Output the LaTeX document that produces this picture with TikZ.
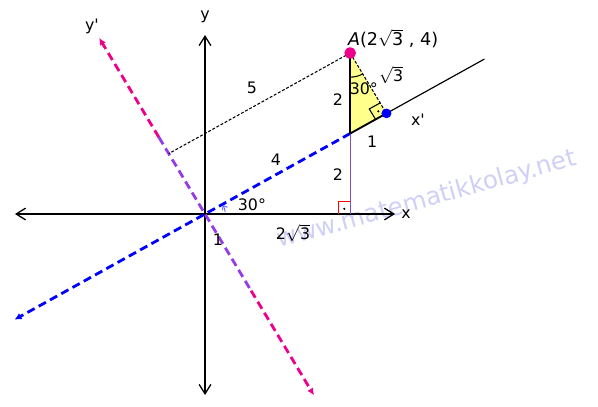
\documentclass[tikz,border=0pt]{standalone}
\usepackage{fontspec}
\setmainfont{DejaVu Sans}
\usetikzlibrary{arrows.meta,calc}
\definecolor{wmark}{RGB}{150,150,235}
\definecolor{tri}{RGB}{255,255,140}
\definecolor{ypurple}{RGB}{150,60,230}
\tikzset{
  ax/.style={line width=1.1pt,black},
  axtip/.style={{Straight Barb[length=8pt,width=10pt,line width=1.1pt]}-{Straight Barb[length=8pt,width=10pt,line width=1.1pt]}},
  xpr/.style={blue,line width=2.4pt,dash pattern=on 7pt off 4pt},
  ypr/.style={magenta,line width=2.4pt,dash pattern=on 7pt off 4pt},
  ftip/.style={-{Latex[length=6pt,width=6pt]}},
  lbl/.style={inner sep=1pt,font=\fontsize{13.5}{15}\selectfont},
  dotd/.style={black,line width=0.9pt,dash pattern=on 2.5pt off 1.5pt},
}

\begin{document}
\begin{tikzpicture}[x=1.257cm,y=1.2075cm]
  \useasboundingbox (-4.893,-4.770) rectangle (9.379,5.317);
  % points
  \coordinate (O) at (0,0);
  \coordinate (A) at ({2*sqrt(3)},4);
  \coordinate (B) at ({2*sqrt(3)},2);
  \coordinate (C) at ({2*sqrt(3)},0);
  \coordinate (P) at (30:5);
  \coordinate (Q) at (120:{sqrt(3)});
  \coordinate (xl) at (-4.535,0);
  \coordinate (xr) at (4.535,0);
  \coordinate (yd) at (0,-4.497);
  \coordinate (yu) at (0,4.447);
  \coordinate (xpl) at (210:5.25);
  \coordinate (xpr) at (30:7.7);
  \coordinate (ypu) at (120:5.05);
  \coordinate (ypd) at (300:5.2);
  \coordinate (ypm1) at (120:2.2);
  \coordinate (ypm2) at (300:2.2);

  % watermark
  \node[rotate=15.5,text=wmark,opacity=0.45,font=\fontsize{21}{24}\selectfont] (wm) at (5.30,0.35) {www.matematikkolay.net};

  % triangle
  \fill[tri] (A) -- (B) -- (P) -- cycle;

  % axes
  \draw[ax,axtip] (xl) -- (xr);
  \draw[ax,axtip] (yd) -- (yu);

  % rotated axes
  \draw[ypr,ftip] (ypm1) -- (ypu);
  \draw[ypr,ftip] (ypm2) -- (ypd);
  \draw[ypr,ypurple] (ypm1) -- (ypm2);
  \draw[xpr,ftip] (B) -- (xpl);
  \draw[black,line width=1.6pt] (B) -- (P);
  \draw[black,line width=1pt] (P) -- (xpr);

  % helper lines
  \draw[dotd] (A) -- (Q);
  \draw[dotd] (A) -- (P);
  \draw[black,line width=1.2pt] (A) -- (B);
  \draw[blue!50!violet!70,line width=0.8pt] (B) -- (C);

  % angle marks
  \draw[line width=0.9pt] ($(A)+(270:0.6)$) arc[start angle=270,end angle=300,radius=0.6];
  \draw[line width=0.9pt] ($(P)+(120:0.3)$) -- ($(P)+(120:0.3)+(210:0.3)$) -- ($(P)+(210:0.3)$);
  \fill ($(P)+(165:0.2)$) circle (1pt);
  \draw[red,line width=0.9pt] ($(C)+(-0.28,0)$) -- ($(C)+(-0.28,0.3)$) -- ($(C)+(0,0.3)$);
  \fill ($(C)+(-0.14,0.13)$) circle (1pt);
  \draw[blue!60,line width=0.8pt,-{Straight Barb[length=3pt,width=5pt]}] (0.48,0.05) arc[start angle=6,end angle=28,radius=0.48];

  % dots
  \fill[magenta] (A) circle (0.14);
  \fill[blue] (P) circle (0.12);

  % labels
  \node[lbl] (lx) at (4.80,0) {x};
  \node[lbl] (ly) at (0,4.89) {y};
  \node[lbl] (lyp) at (-2.70,4.67) {y\textquotesingle};
  \node[lbl] (lxp) at (5.08,2.34) {x\textquotesingle};
  \node[lbl,font=\fontsize{15}{17}\selectfont] (lA) at (4.49,4.37) {\textit{A}(2$\sqrt{\mathrm{3}}$ , 4)};
  \node[lbl] (l5) at (1.12,3.13) {5};
  \node[lbl] (l2a) at (3.17,2.83) {2};
  \node[lbl] (l2b) at (3.17,0.97) {2};
  \node[lbl] (l4) at (1.69,1.34) {4};
  \node[lbl] (l1) at (3.99,1.79) {1};
  \node[lbl] (ls3) at (4.44,3.45) {$\sqrt{\mathrm{3}}$};
  \node[lbl] (lA30) at (3.79,3.11) {30°};
  \node[lbl] (lO30) at (1.12,0.22) {30°};
  \node[lbl] (l1o) at (0.31,-0.65) {1};
  \node[lbl] (l23) at (2.10,-0.47) {2$\sqrt{\mathrm{3}}$};
\end{tikzpicture}
\end{document}
